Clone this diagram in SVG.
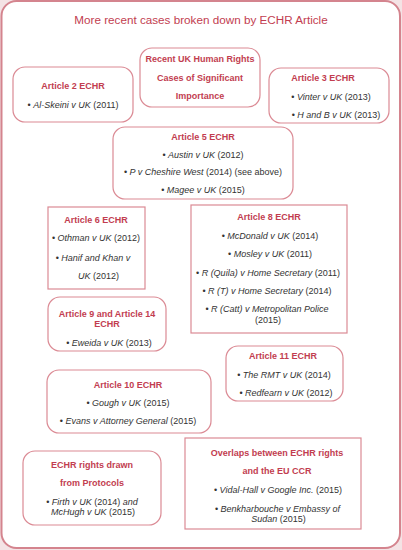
<svg xmlns="http://www.w3.org/2000/svg" width="402" height="550" viewBox="0 0 402 550">
<style>
.bx{fill:#fff;stroke:#db8a94;stroke-width:1.2}
.hd{font-family:"Liberation Sans",Arial,sans-serif;font-size:9px;font-weight:bold;fill:#c23d50;text-anchor:middle}
.tt{font-family:"Liberation Sans",Arial,sans-serif;font-size:11.7px;fill:#c23d50;text-anchor:middle}
.b{font-family:"Liberation Sans",Arial,sans-serif;font-size:9px;fill:#333;text-anchor:middle}
.i{font-style:italic}
</style>
<rect x="0" y="0" width="402" height="550" fill="#f4e3e5"/>
<rect x="1.5" y="1" width="398.5" height="547" rx="15" fill="#fff" stroke="#d4848e" stroke-width="2"/>
<text class="tt" x="201" y="23.5">More recent cases broken down by ECHR Article</text>
<g id="connectors"></g>
<g id="center">
<rect class="bx" x="140" y="48" width="120" height="59" rx="12"/>
<text class="hd" x="200" y="62">Recent UK Human Rights</text>
<text class="hd" x="200" y="80.5">Cases of Significant</text>
<text class="hd" x="200" y="99">Importance</text>
</g>
<g id="art2">
<rect class="bx" x="13" y="67" width="120" height="55" rx="12"/>
<text class="hd" x="73" y="88.5">Article 2 ECHR</text>
<text class="b" x="73" y="107.5">• <tspan class="i">Al-Skeini v UK</tspan> (2011)</text>
</g>
<g id="art3">
<rect class="bx" x="269" y="68" width="120" height="55" rx="12"/>
<text class="hd" x="323" y="80.5">Article 3 ECHR</text>
<text class="b" x="331" y="99.5">• <tspan class="i">Vinter v UK</tspan> (2013)</text>
<text class="b" x="336" y="117.5">• <tspan class="i">H and B v UK</tspan> (2013)</text>
</g>
<g id="art5">
<rect class="bx" x="113" y="127" width="180" height="72" rx="12"/>
<text class="hd" x="203" y="139.5">Article 5 ECHR</text>
<text class="b" x="203" y="157.5">• <tspan class="i">Austin v UK</tspan> (2012)</text>
<text class="b" x="203" y="174.5">• <tspan class="i">P v Cheshire West</tspan> (2014) (see above)</text>
<text class="b" x="203" y="192.5">• <tspan class="i">Magee v UK</tspan> (2015)</text>
</g>
<g id="art6">
<rect class="bx" x="48" y="207" width="97" height="82"/>
<text class="hd" x="96" y="222.5">Article 6 ECHR</text>
<text class="b" x="96" y="240.5">• <tspan class="i">Othman v UK</tspan> (2012)</text>
<text class="b" x="93" y="260.5">• <tspan class="i">Hanif and Khan v</tspan></text>
<text class="b" x="98.5" y="278.5"><tspan class="i">UK</tspan> (2012)</text>
</g>
<g id="art8">
<rect class="bx" x="191" y="205" width="156" height="128"/>
<text class="hd" x="269" y="219.5">Article 8 ECHR</text>
<text class="b" x="270" y="238.5">• <tspan class="i">McDonald v UK</tspan> (2014)</text>
<text class="b" x="270" y="256.5">• <tspan class="i">Mosley v UK</tspan> (2011)</text>
<text class="b" x="268" y="275.5">• <tspan class="i">R (Quila) v Home Secretary</tspan> (2011)</text>
<text class="b" x="267" y="293.5">• <tspan class="i">R (T) v Home Secretary</tspan> (2014)</text>
<text class="b" x="267" y="312">• <tspan class="i">R (Catt) v Metropolitan Police</tspan></text>
<text class="b" x="268" y="322.5">(2015)</text>
</g>
<g id="art9">
<rect class="bx" x="48" y="297" width="118" height="54" rx="12"/>
<text class="hd" x="107" y="316.5">Article 9 and Article 14</text>
<text class="hd" x="107" y="326.5">ECHR</text>
<text class="b" x="109" y="345.5">• <tspan class="i">Eweida v UK</tspan> (2013)</text>
</g>
<g id="art11">
<rect class="bx" x="226" y="346" width="117" height="55" rx="12"/>
<text class="hd" x="283" y="358.5">Article 11 ECHR</text>
<text class="b" x="284" y="377.5">• <tspan class="i">The RMT v UK</tspan> (2014)</text>
<text class="b" x="286" y="395.5">• <tspan class="i">Redfearn v UK</tspan> (2012)</text>
</g>
<g id="art10">
<rect class="bx" x="47" y="370" width="164" height="63" rx="12"/>
<text class="hd" x="128" y="387.5">Article 10 ECHR</text>
<text class="b" x="128" y="405.5">• <tspan class="i">Gough v UK</tspan> (2015)</text>
<text class="b" x="128" y="423.5">• <tspan class="i">Evans v Attorney General</tspan> (2015)</text>
</g>
<g id="protocols">
<rect class="bx" x="23" y="451" width="138" height="74" rx="12"/>
<text class="hd" x="92" y="467.5">ECHR rights drawn</text>
<text class="hd" x="92" y="485.5">from Protocols</text>
<text class="b" x="92" y="504.5">• <tspan class="i">Firth v UK</tspan> (2014) <tspan class="i">and</tspan></text>
<text class="b" x="93" y="514.5"><tspan class="i">McHugh v UK</tspan> (2015)</text>
</g>
<g id="overlaps">
<rect class="bx" x="185" y="438" width="176" height="91"/>
<text class="hd" x="277" y="455.5">Overlaps between ECHR rights</text>
<text class="hd" x="277" y="473.5">and the EU CCR</text>
<text class="b" x="278" y="492.5">• <tspan class="i">Vidal-Hall v Google Inc.</tspan> (2015)</text>
<text class="b" x="277.5" y="511.5">• <tspan class="i">Benkharbouche v Embassy of</tspan></text>
<text class="b" x="278.5" y="521.5"><tspan class="i">Sudan</tspan> (2015)</text>
</g>
</svg>
